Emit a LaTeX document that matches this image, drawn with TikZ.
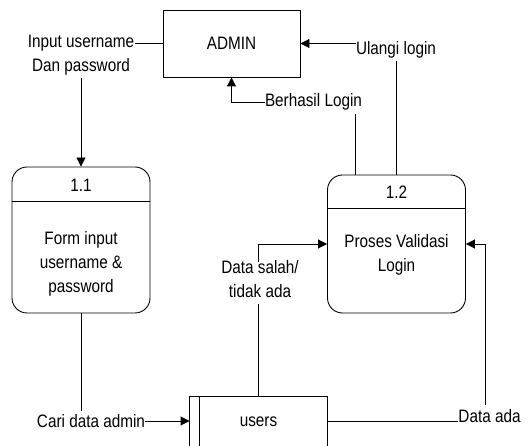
\documentclass[tikz,border=0pt]{standalone}
\usepackage{fontspec}
\setmainfont[FakeStretch=0.85]{Liberation Sans}
\usetikzlibrary{arrows.meta}
\begin{document}
\begin{tikzpicture}[x=1pt,y=-1pt,line width=0.9pt,
  every node/.style={font=\fontsize{18}{24}\selectfont},
  lbl/.style={inner sep=0pt,align=center},
  arr/.style={-{Triangle[length=9pt,width=9pt]}},
  proc/.style={draw,rounded corners=15pt,minimum width=138pt}]
\useasboundingbox (0,0) rectangle (531,446);

% external entity
\node[draw,minimum width=137pt,minimum height=67pt] (admin) at (231.5,43.5) {ADMIN};

% process 1.1
\node[proc,minimum height=146pt] (p11) at (81,240) {};
\draw ([yshift=-35pt]p11.north west) -- ([yshift=-35pt]p11.north east);
\node[lbl] (p11id) at (81,185) {1.1};
\node[lbl] (p11txt) at (81,264) {Form input\\username \&\\password};

% process 1.2
\node[proc,minimum height=138pt] (p12) at (396.5,244) {};
\draw ([yshift=-34pt]p12.north west) -- ([yshift=-34pt]p12.north east);
\node[lbl] (p12id) at (396.5,192) {1.2};
\node[lbl] (p12txt) at (396.5,255) {Proses Validasi\\Login};

% data store
\node[minimum width=137pt,minimum height=49pt] (st) at (258.5,421.5) {users};
\draw (st.south west) -- (st.north west) -- (st.north east) -- (st.south east);
\draw ([xshift=10pt]st.north west) -- ([xshift=10pt]st.south west);

% flow labels
\node[lbl] (in1) at (81,43) {Input username};
\node[lbl] (in2) at (81,67) {Dan password};
\node[lbl] (ul) at (396,50) {Ulangi login};
\node[lbl] (bh) at (313.5,102) {Berhasil Login};
\node[lbl] (ds) at (260,279) {Data salah/\\tidak ada};
\node[lbl] (da) at (489.5,416) {Data ada};
\node[lbl] (cd) at (91,421) {Cari data admin};

% flows
\draw (in1.east) -- (in1.east -| admin.west);
\draw[arr] ([yshift=-2pt]in2.south) -- (p11.north);

\draw[arr] (ul.west |- admin.east) -- (admin.east);
\draw ([yshift=-2pt]ul.south) -- (ul.south |- p12.north);

\draw[arr] (bh.west) -| (admin.south);
\draw ([xshift=-7pt,yshift=-3pt]bh.south east) -- ([xshift=-7pt]bh.south east |- p12.north);

\draw (st.north) -- ([yshift=-6pt]st.north |- ds.south);
\draw[arr] ([yshift=-2pt]st.north |- ds.north) |- (p12.west);

\draw (st.east) -- (st.east -| da.west);
\draw[arr] ([xshift=-4.5pt,yshift=4pt]da.north) |- (p12.east);

\draw[arr] (cd.east) -- (cd.east -| st.west);
\draw (p11.south) -- ([yshift=3pt]p11.south |- cd.north);
\end{tikzpicture}
\end{document}
